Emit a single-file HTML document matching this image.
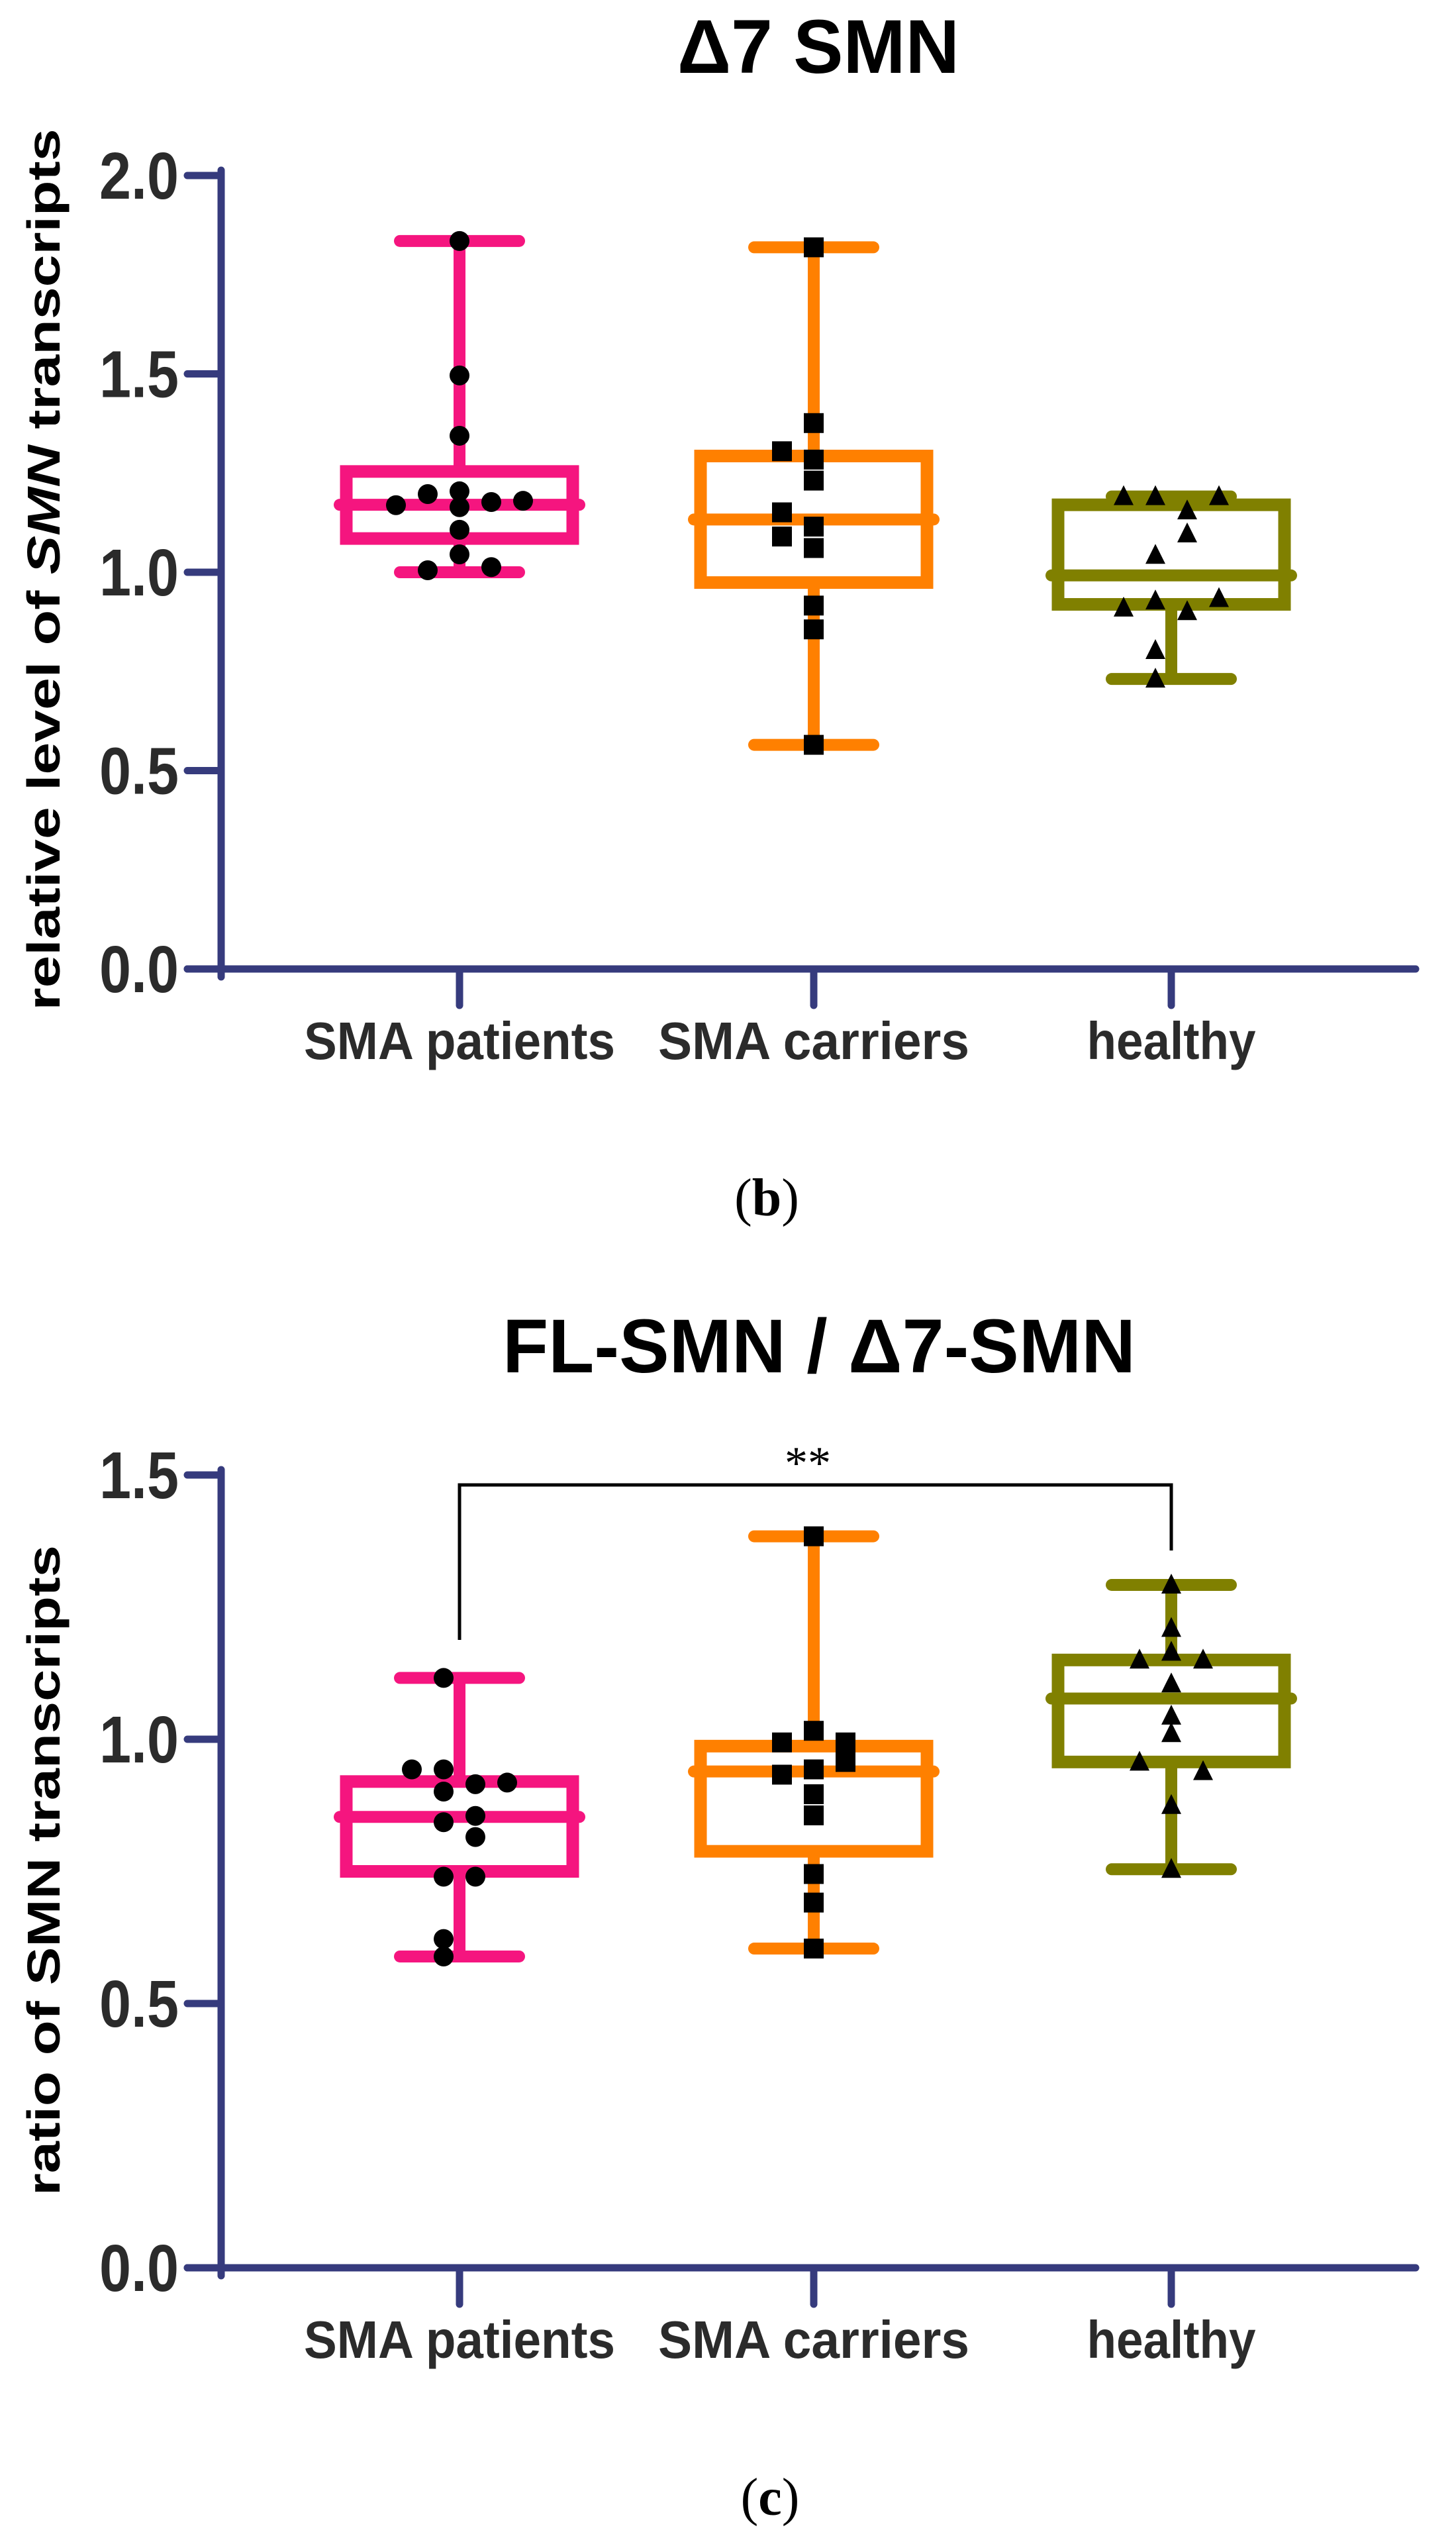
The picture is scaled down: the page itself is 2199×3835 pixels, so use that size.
<!DOCTYPE html>
<html><head><meta charset="utf-8">
<style>
html,body{margin:0;padding:0;background:#fff;}
svg{display:block;}
</style></head>
<body>
<svg id="fig" width="2199" height="3835" viewBox="0 0 2199 3835" xmlns="http://www.w3.org/2000/svg">
</svg>
<script>
// ---------- shared ----------
const categories = ["SMA patients", "SMA carriers", "healthy"];
const groupColors = ["#F5157F", "#FF8000", "#808000"];
const markerShapes = ["circle", "square", "triangle"];

// ---------- chart (b): Δ7 SMN ----------
const bTicks = [0.0, 0.5, 1.0, 1.5, 2.0];
const bTickLabels = ["0.0", "0.5", "1.0", "1.5", "2.0"];
const bWhiskerLow = [1.00, 0.565, 0.731];
const bQ1 = [1.085, 0.974, 0.919];
const bMedian = [1.17, 1.133, 0.992];
const bQ3 = [1.254, 1.293, 1.17];
const bWhiskerHigh = [1.835, 1.819, 1.191];
const bPatientsVals = [1.835, 1.496, 1.344, 1.204, 1.197, 1.169, 1.164, 1.177, 1.18, 1.107, 1.045, 1.005, 1.013];
const bPatientsCol  = [0, 0, 0, 0, -1, -2, 0, 1, 2, 0, 0, -1, 1];
const bCarriersVals = [1.819, 1.376, 1.305, 1.284, 1.231, 1.151, 1.115, 1.09, 1.061, 0.916, 0.856, 0.565];
const bCarriersCol  = [0, 0, -1, 0, 0, -1, 0, -1, 0, 0, 0, 0];
const bHealthyVals  = [1.191, 1.191, 1.191, 1.155, 1.097, 1.043, 0.91, 0.928, 0.901, 0.934, 0.803, 0.731];
const bHealthyCol   = [-1.5, -0.5, 1.5, 0.5, 0.5, -0.5, -1.5, -0.5, 0.5, 1.5, -0.5, -0.5];

// ---------- chart (c): FL-SMN / Δ7-SMN ----------
const cTicks = [0.0, 0.5, 1.0, 1.5];
const cTickLabels = ["0.0", "0.5", "1.0", "1.5"];
const cWhiskerLow = [0.589, 0.604, 0.754];
const cQ1 = [0.75, 0.788, 0.957];
const cMedian = [0.853, 0.939, 1.077];
const cQ3 = [0.92, 0.987, 1.15];
const cWhiskerHigh = [1.116, 1.384, 1.292];
const cPatientsVals = [1.116, 0.943, 0.943, 0.918, 0.915, 0.901, 0.855, 0.843, 0.815, 0.74, 0.74, 0.622, 0.589];
const cPatientsCol  = [-0.5, -1.5, -0.5, 1.5, 0.5, -0.5, 0.5, -0.5, 0.5, -0.5, 0.5, -0.5, -0.5];
const cCarriersVals = [1.384, 1.016, 0.994, 0.994, 0.957, 0.943, 0.933, 0.896, 0.856, 0.745, 0.691, 0.604];
const cCarriersCol  = [0, 0, -1, 1, 1, 0, -1, 0, 0, 0, 0, 0];
const cHealthyVals  = [1.292, 1.21, 1.165, 1.15, 1.15, 1.105, 1.044, 1.011, 0.957, 0.939, 0.875, 0.754];
const cHealthyCol   = [0, 0, 0, -1, 1, 0, 0, 0, -1, 1, 0, 0];

const NS = "http://www.w3.org/2000/svg";
const svg = document.getElementById("fig");
function mk(tag, attrs, parent) {
  const e = document.createElementNS(NS, tag);
  for (const k in attrs) e.setAttribute(k, attrs[k]);
  (parent || svg).appendChild(e);
  return e;
}
const AXIS = "#363B7D", TXT = "#2b2b2b";
const catX = [694, 1229, 1769];
const colStep = 48;

function drawChart(opt) {
  const g = mk("g", {});
  
  
  const y = v => opt.y0 - v * opt.pxPerUnit;
  const x = i => catX[i];

  const t = mk("text", {x: opt.titleX, y: opt.titleY, "text-anchor": "middle", "font-family": "Liberation Sans, sans-serif", "font-weight": "bold", "font-size": 115, fill: "#000", textLength: opt.titleLen, lengthAdjust: "spacingAndGlyphs"}, g);
  t.textContent = opt.title;
  
  

  const yt = mk("text", {transform: `translate(90,${opt.yTitleCenter}) rotate(-90)`, "text-anchor": "middle", "font-family": "Liberation Sans, sans-serif", "font-weight": "bold", "font-size": 70, fill: "#000", textLength: opt.yTitleLen, lengthAdjust: "spacingAndGlyphs"}, g);
  yt.innerHTML = opt.yTitleHtml;
  
  

  const ax = mk("line", {x1: 334, y1: opt.axisTop, x2: 334, y2: opt.y0 + 12, stroke: AXIS, "stroke-width": 11, "stroke-linecap": "round"}, g);
  
  
  const xa = mk("line", {x1: 283, y1: opt.y0, x2: 2138, y2: opt.y0, stroke: AXIS, "stroke-width": 11, "stroke-linecap": "round"}, g);
  
  

  opt.ticks.forEach((v, i) => {
    const tk = mk("line", {x1: 283, y1: y(v), x2: 334, y2: y(v), stroke: AXIS, "stroke-width": 11, "stroke-linecap": "round"}, g);
    
    
    const tl = mk("text", {x: 270, y: y(v) + 35, "text-anchor": "end", "font-family": "Liberation Sans, sans-serif", "font-weight": "bold", "font-size": 100, fill: TXT, textLength: 120, lengthAdjust: "spacingAndGlyphs"}, g);
    tl.textContent = opt.tickLabels[i];
    
    
  });
  categories.forEach((c, i) => {
    const tk = mk("line", {x1: x(i), y1: opt.y0, x2: x(i), y2: opt.y0 + 55, stroke: AXIS, "stroke-width": 11, "stroke-linecap": "round"}, g);
    
    
    const cl = mk("text", {x: x(i), y: opt.y0 + 136, "text-anchor": "middle", "font-family": "Liberation Sans, sans-serif", "font-weight": "bold", "font-size": 80, fill: TXT, textLength: [470, 470, 255][i], lengthAdjust: "spacingAndGlyphs"}, g);
    cl.textContent = c;
    
    
  });

  for (let i = 0; i < 3; i++) {
    const col = groupColors[i];
    const bg = mk("g", {}, g);
    
    
    mk("line", {x1: x(i), y1: y(opt.whiskerHigh[i]), x2: x(i), y2: y(opt.q3[i]), stroke: col, "stroke-width": 18}, bg);
    mk("line", {x1: x(i), y1: y(opt.q1[i]), x2: x(i), y2: y(opt.whiskerLow[i]), stroke: col, "stroke-width": 18}, bg);
    mk("line", {x1: x(i) - 90, y1: y(opt.whiskerHigh[i]), x2: x(i) + 90, y2: y(opt.whiskerHigh[i]), stroke: col, "stroke-width": 18, "stroke-linecap": "round"}, bg);
    mk("line", {x1: x(i) - 90, y1: y(opt.whiskerLow[i]), x2: x(i) + 90, y2: y(opt.whiskerLow[i]), stroke: col, "stroke-width": 18, "stroke-linecap": "round"}, bg);
    mk("rect", {x: x(i) - 171, y: y(opt.q3[i]), width: 342, height: y(opt.q1[i]) - y(opt.q3[i]), fill: "none", stroke: col, "stroke-width": 19}, bg);
    mk("line", {x1: x(i) - 181, y1: y(opt.median[i]), x2: x(i) + 181, y2: y(opt.median[i]), stroke: col, "stroke-width": 18, "stroke-linecap": "round"}, bg);
  }

  opt.points.forEach((pts, i) => {
    const vals = pts[0], cols = pts[1];
    vals.forEach((v, k) => {
      const px = x(i) + cols[k] * colStep, py = y(v);
      let m;
      if (markerShapes[i] === "circle") m = mk("circle", {cx: px, cy: py, r: 15, fill: "#000"}, g);
      else if (markerShapes[i] === "square") m = mk("rect", {x: px - 15, y: py - 15, width: 30, height: 30, fill: "#000"}, g);
      else m = mk("polygon", {points: `${px},${py - 17} ${px - 15},${py + 13} ${px + 15},${py + 13}`, fill: "#000"}, g);
      
      
    });
  });
  return y;
}

drawChart({
  name: "chart-delta7-smn", y0: 1463, pxPerUnit: 599, axisTop: 257,
  title: "Δ7 SMN", titleX: 1236, titleY: 110, titleLen: 426,
  yTitleCenter: 860, yTitleLen: 1331,
  yTitleHtml: 'relative level of <tspan font-style="italic">SMN</tspan> transcripts',
  ticks: bTicks, tickLabels: bTickLabels,
  whiskerLow: bWhiskerLow, q1: bQ1, median: bMedian, q3: bQ3, whiskerHigh: bWhiskerHigh,
  points: [[bPatientsVals, bPatientsCol], [bCarriersVals, bCarriersCol], [bHealthyVals, bHealthyCol]]
});

drawChart({
  name: "chart-fl-delta7-ratio", y0: 3424, pxPerUnit: 798, axisTop: 2219,
  title: "FL-SMN / Δ7-SMN", titleX: 1237, titleY: 2072, titleLen: 956,
  yTitleCenter: 2824, yTitleLen: 982,
  yTitleHtml: 'ratio of SMN transcripts',
  ticks: cTicks, tickLabels: cTickLabels,
  whiskerLow: cWhiskerLow, q1: cQ1, median: cMedian, q3: cQ3, whiskerHigh: cWhiskerHigh,
  points: [[cPatientsVals, cPatientsCol], [cCarriersVals, cCarriersCol], [cHealthyVals, cHealthyCol]]
});

const br = mk("polyline", {points: `${catX[0]},2476 ${catX[0]},2242 ${catX[2]},2242 ${catX[2]},2341`, fill: "none", stroke: "#000", "stroke-width": 5});


const st = mk("text", {x: 1220, y: 2232, "text-anchor": "middle", "font-family": "Liberation Serif, serif", "font-size": 70, fill: "#000"});
st.textContent = "**";



const pb = mk("text", {x: 1158, y: 1835, "text-anchor": "middle", "font-family": "Liberation Serif, serif", "font-size": 80, fill: "#000"});
pb.innerHTML = '(<tspan font-weight="bold">b</tspan>)';


const pc = mk("text", {x: 1163, y: 3797, "text-anchor": "middle", "font-family": "Liberation Serif, serif", "font-size": 80, fill: "#000"});
pc.innerHTML = '(<tspan font-weight="bold">c</tspan>)';


</script>
</body></html>
